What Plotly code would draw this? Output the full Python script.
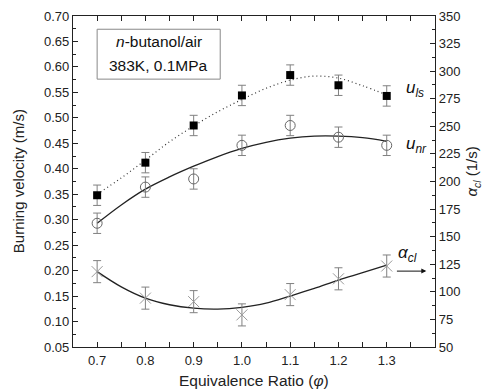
import plotly.graph_objects as go

# ---- data ----
phi = [0.7, 0.8, 0.9, 1.0, 1.1, 1.2, 1.3]
u_ls = [0.348, 0.412, 0.485, 0.544, 0.584, 0.564, 0.543]
u_ls_err = [0.02, 0.02, 0.02, 0.02, 0.02, 0.02, 0.02]
u_nr = [0.293, 0.364, 0.380, 0.446, 0.485, 0.462, 0.446]
u_nr_err = [0.02, 0.02, 0.02, 0.02, 0.02, 0.02, 0.02]
alpha_cl = [118.3, 94.3, 91.1, 79.1, 97.5, 111.8, 123.4]
alpha_err = [10, 10, 10, 10, 10, 10, 10]

phi_fit = [0.70, 0.75, 0.80, 0.85, 0.90, 0.95, 1.00, 1.05, 1.10, 1.15, 1.20, 1.25, 1.30]
u_ls_fit = [0.350, 0.382, 0.417, 0.453, 0.484, 0.512, 0.536, 0.558, 0.574, 0.582, 0.578, 0.563, 0.545]
u_nr_fit = [0.293, 0.329, 0.360, 0.384, 0.405, 0.424, 0.440, 0.452, 0.460, 0.464, 0.464, 0.461, 0.454]
alpha_fit = [118.3, 104.5, 94.3, 88.3, 85.2, 84.4, 86.0, 89.7, 96.2, 103.1, 110.7, 117.4, 124.3]

x_ticks = [0.7, 0.8, 0.9, 1.0, 1.1, 1.2, 1.3]
y_ticks = [0.05, 0.10, 0.15, 0.20, 0.25, 0.30, 0.35, 0.40, 0.45, 0.50, 0.55, 0.60, 0.65, 0.70]
y2_ticks = [50, 75, 100, 125, 150, 175, 200, 225, 250, 275, 300, 325, 350]

FONT = "Liberation Sans, Arial, sans-serif"
ERR_COL = "#808080"

fig = go.Figure()

# fitted curves
fig.add_trace(go.Scatter(x=phi_fit, y=u_ls_fit, mode="lines", line=dict(color="#333", width=1.2, dash="1px,3px", shape="spline"), showlegend=False, hoverinfo="skip"))
fig.add_trace(go.Scatter(x=phi_fit, y=u_nr_fit, mode="lines", line=dict(color="#222", width=1.3, shape="spline"), showlegend=False, hoverinfo="skip"))
fig.add_trace(go.Scatter(x=phi_fit, y=alpha_fit, yaxis="y2", mode="lines", line=dict(color="#222", width=1.3, shape="spline"), showlegend=False, hoverinfo="skip"))

# data points
fig.add_trace(go.Scatter(x=phi, y=u_ls, mode="markers",
                         marker=dict(symbol="square", size=8, color="black"),
                         error_y=dict(type="data", array=u_ls_err, color=ERR_COL, thickness=1, width=4),
                         showlegend=False))
fig.add_trace(go.Scatter(x=phi, y=u_nr, mode="markers",
                         marker=dict(symbol="circle-open", size=10, color="#666", line=dict(width=1)),
                         error_y=dict(type="data", array=u_nr_err, color=ERR_COL, thickness=1, width=4),
                         showlegend=False))
fig.add_trace(go.Scatter(x=phi, y=alpha_cl, yaxis="y2", mode="markers",
                         marker=dict(symbol="x-thin-open", size=11, color="#999", line=dict(width=1, color="#999")),
                         error_y=dict(type="data", array=alpha_err, color=ERR_COL, thickness=1, width=4),
                         showlegend=False))

fig.update_layout(
    width=491, height=392,
    margin=dict(l=73, r=56, t=16, b=45),
    plot_bgcolor="white", paper_bgcolor="white",
    font=dict(family=FONT, size=13, color="#222"),
    xaxis=dict(range=[0.65, 1.4], tickvals=x_ticks, ticktext=[f"{v:.1f}" for v in x_ticks],
               ticks="inside", ticklen=5, tickcolor="#222", showline=True, linecolor="#222", linewidth=1.2,
               mirror="allticks", showgrid=False, zeroline=False, ticklabelstandoff=1, automargin=False,
               minor=dict(tick0=0.65, dtick=0.05, ticks="inside", ticklen=3, tickcolor="#222"),
               tickfont=dict(size=13)),
    yaxis=dict(range=[0.05, 0.70], tickvals=y_ticks, ticktext=[f"{v:.2f}" for v in y_ticks],
               ticks="inside", ticklen=5, tickcolor="#222", showline=True, linecolor="#222", linewidth=1.2,
               showgrid=False, zeroline=False, automargin=False,
               minor=dict(tick0=0.025, dtick=0.025, ticks="inside", ticklen=3, tickcolor="#222"),
               tickfont=dict(size=13)),
    yaxis2=dict(range=[50, 350], tickvals=y2_ticks, overlaying="y", side="right",
                ticks="inside", ticklen=5, tickcolor="#222", showline=True, linecolor="#222", linewidth=1.2,
                showgrid=False, zeroline=False, automargin=False,
                minor=dict(tick0=37.5, dtick=12.5, ticks="inside", ticklen=3, tickcolor="#222"),
                tickfont=dict(size=13)),
)

# axis titles as paper-positioned annotations
fig.add_annotation(x=0.5, y=-0.1, xref="paper", yref="paper", yanchor="middle", showarrow=False,
                   text="Equivalence Ratio (<i>φ</i>)", font=dict(size=15.5, color="#222"))
fig.add_annotation(x=-0.15, y=0.5, xref="paper", yref="paper", xanchor="center", showarrow=False, textangle=-90,
                   text="Burning velocity (m/s)", font=dict(size=15, color="#222"))
fig.add_annotation(x=1.105, y=0.53, xref="paper", yref="paper", xanchor="center", showarrow=False, textangle=-90,
                   text="<i>α<sub>cl</sub></i> (1/s)", font=dict(size=15, color="#222"))

# text box
fig.add_shape(type="rect", xref="x", yref="y", x0=0.700, x1=0.955, y0=0.576, y1=0.674,
              line=dict(color="#888", width=1), fillcolor="white")
fig.add_annotation(x=0.8275, y=0.650, xref="x", yref="y", text="<i>n</i>-butanol/air",
                   showarrow=False, font=dict(size=15.5, color="#111"))
fig.add_annotation(x=0.8275, y=0.603, xref="x", yref="y", text="383K, 0.1MPa",
                   showarrow=False, font=dict(size=15.5, color="#111"))

# curve labels
fig.add_annotation(x=1.335, y=0.557, xref="x", yref="y", text="<i>u<sub>ls</sub></i>",
                   showarrow=False, xanchor="left", font=dict(size=17, color="#111"))
fig.add_annotation(x=1.335, y=0.447, xref="x", yref="y", text="<i>u<sub>nr</sub></i>",
                   showarrow=False, xanchor="left", font=dict(size=17, color="#111"))
fig.add_annotation(x=1.32, y=0.233, xref="x", yref="y", text="<i>α<sub>cl</sub></i>",
                   showarrow=False, xanchor="left", font=dict(size=17, color="#111"))
fig.add_annotation(x=1.382, y=0.199, ax=1.318, ay=0.199, xref="x", yref="y", axref="x", ayref="y",
                   text="", showarrow=True, arrowhead=2, arrowsize=1, arrowwidth=1, arrowcolor="#111")

fig.write_html("out.html")
